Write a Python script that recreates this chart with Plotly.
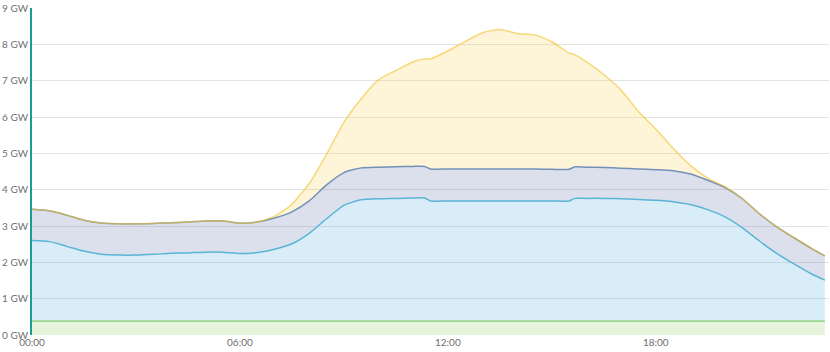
import plotly.graph_objects as go

hours = [0, 0.5, 1, 1.5, 2, 2.5, 3, 3.5, 4, 4.5, 5, 5.5, 6, 6.5, 7, 7.5, 8, 8.5, 9, 9.5,
         10, 10.5, 11, 11.33, 11.5, 12, 12.5, 13, 13.5, 14, 14.5, 15, 15.5, 15.67, 16, 16.5,
         17, 17.5, 18, 18.5, 19, 19.5, 20, 20.5, 21, 21.5, 22, 22.5, 22.88]

total = [3.46, 3.42, 3.30, 3.16, 3.08, 3.06, 3.06, 3.07, 3.09, 3.11, 3.14, 3.14, 3.08, 3.11,
         3.27, 3.60, 4.17, 4.97, 5.85, 6.50, 7.03, 7.28, 7.52, 7.60, 7.60, 7.82, 8.08, 8.32,
         8.41, 8.30, 8.26, 8.07, 7.76, 7.71, 7.52, 7.17, 6.74, 6.15, 5.67, 5.14, 4.67, 4.32,
         4.08, 3.75, 3.33, 2.97, 2.67, 2.38, 2.18]

non_solar = [3.46, 3.42, 3.30, 3.16, 3.08, 3.06, 3.06, 3.07, 3.09, 3.11, 3.14, 3.14, 3.08, 3.11,
             3.22, 3.39, 3.69, 4.13, 4.47, 4.60, 4.62, 4.63, 4.64, 4.64, 4.57, 4.57, 4.57, 4.57,
             4.57, 4.57, 4.57, 4.56, 4.56, 4.63, 4.62, 4.61, 4.59, 4.57, 4.55, 4.52, 4.43, 4.26,
             4.06, 3.75, 3.33, 2.97, 2.67, 2.38, 2.18]

blue = [2.60, 2.57, 2.44, 2.31, 2.22, 2.20, 2.20, 2.22, 2.25, 2.26, 2.28, 2.28, 2.24, 2.27,
        2.36, 2.51, 2.80, 3.20, 3.57, 3.72, 3.75, 3.76, 3.77, 3.77, 3.69, 3.69, 3.69, 3.69,
        3.69, 3.69, 3.69, 3.69, 3.69, 3.76, 3.76, 3.76, 3.75, 3.73, 3.71, 3.67, 3.59, 3.45,
        3.25, 2.95, 2.58, 2.24, 1.95, 1.68, 1.51]

base = [0.38] * len(hours)

y_ticks = list(range(0, 10))
y_labels = [f"{v} GW" for v in y_ticks]
x_ticks = [0, 6, 12, 18]
x_labels = ["00:00", "06:00", "12:00", "18:00"]

fig = go.Figure()
sm = 0.6
fig.add_trace(go.Scatter(x=hours, y=base, mode="lines", fill="tozeroy",
                         line=dict(color="#86cf66", width=1.3, shape="spline", smoothing=sm),
                         fillcolor="rgba(130,200,90,0.2)"))
fig.add_trace(go.Scatter(x=hours, y=blue, mode="lines", fill="tonexty",
                         line=dict(color="#5ab4d8", width=1.5, shape="spline", smoothing=sm),
                         fillcolor="rgba(90,180,220,0.24)"))
fig.add_trace(go.Scatter(x=hours, y=non_solar, mode="lines", fill="tonexty",
                         line=dict(color="#7391b8", width=1.5, shape="spline", smoothing=sm),
                         fillcolor="rgba(110,130,180,0.25)"))
fig.add_trace(go.Scatter(x=hours, y=total, mode="lines", fill="tonexty",
                         line=dict(color="rgba(240,195,50,0.62)", width=1.5, shape="spline", smoothing=sm),
                         fillcolor="rgba(252,210,95,0.25)"))

fig.update_layout(
    width=830, height=352,
    margin=dict(l=32, r=1, t=8, b=17),
    paper_bgcolor="white", plot_bgcolor="white",
    showlegend=False,
    font=dict(family="Lato, 'Open Sans', sans-serif", size=10, color="#707070"),
)
fig.update_xaxes(range=[0, 23], tickvals=x_ticks, ticktext=x_labels, showgrid=False,
                 zeroline=False, showline=False, ticks="",
                 tickfont=dict(family="Lato", size=10, color="#707070"))
fig.update_yaxes(range=[0, 9], tickvals=y_ticks, ticktext=y_labels, showgrid=True,
                 gridcolor="#e2e2e2", gridwidth=1, zeroline=False,
                 showline=True, linecolor="#1a9e94", linewidth=2, ticks="",
                 tickfont=dict(family="Lato", size=10, color="#707070"))

fig.write_html("out.html")
